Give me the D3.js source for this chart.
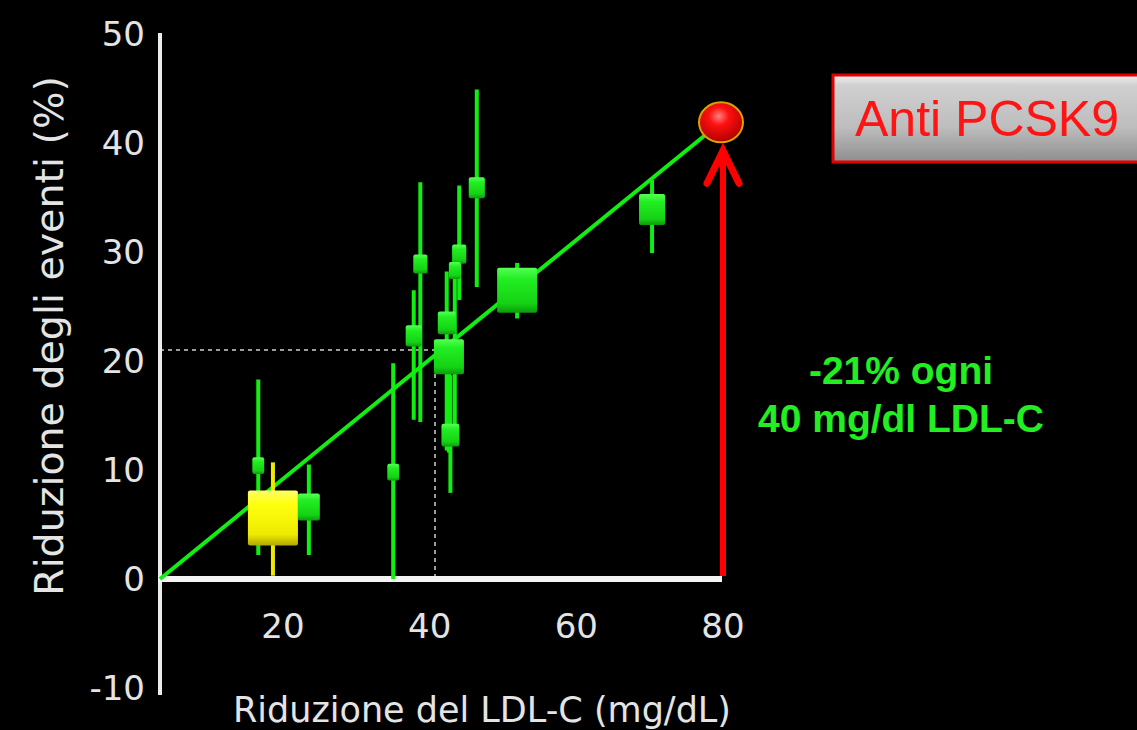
<!DOCTYPE html>
<html>
<head>
<meta charset="utf-8">
<script src="https://cdn.jsdelivr.net/npm/d3@7"></script>
<style>
    html, body { margin: 0; padding: 0; background: #000; }
    svg { display: block; }
</style>
</head>
<body>
<div id="chart"></div>
<script>
// Studies: LDL-C reduction (mg/dL) vs event reduction (%)
const studyX = [16.9, 18.9, 23.8, 35.3, 38.1, 39.0, 42.6, 42.9, 43.1, 44.3, 43.7, 46.7, 52.2, 70.6];
const studyY = [10.4, 5.6, 6.6, 9.8, 22.3, 28.9, 23.5, 20.4, 13.2, 29.8, 28.3, 35.9, 26.5, 33.9];
const studyLow = [2.2, 0.3, 2.2, 0, 14.6, 14.4, 11.8, 11.6, 7.9, 25.6, 12.3, 26.8, 23.9, 29.9];
const studyHigh = [18.3, 10.7, 10.5, 19.8, 26.5, 36.4, 28.2, 21.9, 18.7, 36.1, 30.6, 44.9, 29.0, 36.6];
const studyWeight = [1.4, 25, 4.8, 1.4, 2.6, 2.0, 3.2, 9.0, 3.2, 2.0, 1.4, 2.6, 16, 6.8];
const studyGroup = ['statina', 'altro', 'statina', 'statina', 'statina', 'statina', 'statina',
    'statina', 'statina', 'statina', 'statina', 'statina', 'statina', 'statina'];

// Regression line and the anti PCSK9 projection
const fitX = [3.5, 80];
const fitY = [0, 41.9];
const pcsk9 = { x: 80, y: 41.9 };
const refPoint = { x: 41, y: 21 };

const xTicks = [20, 40, 60, 80];
const yTicks = [-10, 0, 10, 20, 30, 40, 50];

const width = 1137;
const height = 730;

const svg = d3.select('#chart')
    .append('svg')
    .attr('width', width)
    .attr('height', height);

svg.append('rect')
    .attr('width', width)
    .attr('height', height)
    .attr('fill', '#000');

const x = d3.scaleLinear().domain([3.5, 80]).range([160, 721]);
const y = d3.scaleLinear().domain([-10, 50]).range([688, 34]);
const size = d3.scaleSqrt().domain([0, 25]).range([0, 50]);

const defs = svg.append('defs');

function vGradient(id, stops) {
    const gr = defs.append('linearGradient')
        .attr('id', id)
        .attr('x1', 0).attr('y1', 0)
        .attr('x2', 0).attr('y2', 1);
    stops.forEach(s => {
        gr.append('stop').attr('offset', s[0]).attr('stop-color', s[1]);
    });
}

vGradient('greenBox', [[0, '#55ff55'], [0.25, '#22ee22'], [0.8, '#14d214'], [1, '#0c9a0c']]);
vGradient('yellowBox', [[0, '#ffff66'], [0.25, '#ffff10'], [0.8, '#eeea00'], [1, '#b0a800']]);
vGradient('grayBox', [[0, '#f0f0f0'], [0.12, '#d0d0d0'], [0.6, '#bdbdbd'], [1, '#8e8e8e']]);

const redBall = defs.append('radialGradient')
    .attr('id', 'redBall')
    .attr('cx', '45%').attr('cy', '35%').attr('r', '65%');
redBall.append('stop').attr('offset', 0).attr('stop-color', '#ff8080');
redBall.append('stop').attr('offset', 0.35).attr('stop-color', '#ff1010');
redBall.append('stop').attr('offset', 1).attr('stop-color', '#b00000');

// Dashed reference lines
svg.append('line')
    .attr('x1', x(fitX[0]))
    .attr('y1', y(refPoint.y))
    .attr('x2', x(refPoint.x))
    .attr('y2', y(refPoint.y))
    .attr('stroke', '#cfcfcf')
    .attr('stroke-width', 1.5)
    .attr('stroke-dasharray', '4,4');

svg.append('line')
    .attr('x1', x(refPoint.x))
    .attr('y1', y(refPoint.y))
    .attr('x2', x(refPoint.x))
    .attr('y2', y(0))
    .attr('stroke', '#cfcfcf')
    .attr('stroke-width', 1.5)
    .attr('stroke-dasharray', '4,4');

// Axes
svg.append('line')
    .attr('x1', x(fitX[0]))
    .attr('y1', y(50) - 1)
    .attr('x2', x(fitX[0]))
    .attr('y2', y(-10) + 7)
    .attr('stroke', '#ececec')
    .attr('stroke-width', 4);

svg.append('line')
    .attr('x1', x(fitX[0]) - 2)
    .attr('y1', y(0))
    .attr('x2', x(80) + 1)
    .attr('y2', y(0))
    .attr('stroke', '#f4f4f4')
    .attr('stroke-width', 6);

svg.selectAll('.ytick')
    .data(yTicks)
    .enter()
    .append('text')
    .attr('class', 'ytick')
    .attr('x', 145)
    .attr('y', d => y(d))
    .attr('dy', '0.36em')
    .attr('text-anchor', 'end')
    .attr('font-family', 'DejaVu Sans, Verdana, sans-serif')
    .attr('font-size', '34px')
    .attr('fill', '#e4e4e4')
    .text(d => d);

svg.selectAll('.xtick')
    .data(xTicks)
    .enter()
    .append('text')
    .attr('class', 'xtick')
    .attr('x', d => x(d) + 2)
    .attr('y', 626)
    .attr('dy', '0.36em')
    .attr('text-anchor', 'middle')
    .attr('font-family', 'DejaVu Sans, Verdana, sans-serif')
    .attr('font-size', '34px')
    .attr('fill', '#e4e4e4')
    .text(d => d);

// Axis titles
svg.append('text')
    .attr('x', 482)
    .attr('y', 722)
    .attr('text-anchor', 'middle')
    .attr('font-family', 'DejaVu Sans, Verdana, sans-serif')
    .attr('font-size', '35px')
    .attr('fill', '#e4e4e4')
    .text('Riduzione del LDL-C (mg/dL)');

svg.append('text')
    .attr('transform', 'translate(63, 336) rotate(-90)')
    .attr('text-anchor', 'middle')
    .attr('font-family', 'DejaVu Sans, Verdana, sans-serif')
    .attr('font-size', '39.5px')
    .attr('fill', '#e4e4e4')
    .text('Riduzione degli eventi (%)');

// Regression line
svg.append('line')
    .attr('x1', x(fitX[0]))
    .attr('y1', y(fitY[0]))
    .attr('x2', x(fitX[1]))
    .attr('y2', y(fitY[1]))
    .attr('stroke', '#11ee11')
    .attr('stroke-width', 4);

// Studies
const studies = studyX.map((v, i) => ({
    x: v,
    y: studyY[i],
    low: studyLow[i],
    high: studyHigh[i],
    w: studyWeight[i],
    group: studyGroup[i]
}));

const barColor = g => g === 'altro' ? '#f0ea00' : '#11ee11';
const boxFill = g => g === 'altro' ? 'url(#yellowBox)' : 'url(#greenBox)';

svg.selectAll('.ci')
    .data(studies)
    .enter()
    .append('line')
    .attr('class', 'ci')
    .attr('x1', d => x(d.x))
    .attr('x2', d => x(d.x))
    .attr('y1', d => y(d.low))
    .attr('y2', d => y(d.high))
    .attr('stroke', d => barColor(d.group))
    .attr('stroke-width', 4);

// small boxes are drawn a bit taller than wide, like in the slide
svg.selectAll('.box')
    .data(studies)
    .enter()
    .append('rect')
    .attr('class', 'box')
    .attr('x', d => x(d.x) - size(d.w) / 2)
    .attr('y', d => y(d.y) - (size(d.w) + 5) / 2)
    .attr('width', d => size(d.w))
    .attr('height', d => size(d.w) + 5)
    .attr('rx', 2)
    .attr('fill', d => boxFill(d.group));

// Red arrow up to the anti PCSK9 point
svg.append('line')
    .attr('x1', x(pcsk9.x) + 2)
    .attr('y1', y(0) - 3)
    .attr('x2', x(pcsk9.x) + 2)
    .attr('y2', y(39.2))
    .attr('stroke', '#ff0000')
    .attr('stroke-width', 6);

svg.append('path')
    .attr('d', `M${x(pcsk9.x) - 14},${y(36.3)} L${x(pcsk9.x) + 2},${y(39.3)} L${x(pcsk9.x) + 18},${y(36.3)}`)
    .attr('fill', 'none')
    .attr('stroke', '#ff0000')
    .attr('stroke-width', 7)
    .attr('stroke-linecap', 'round')
    .attr('stroke-linejoin', 'miter');

svg.append('ellipse')
    .attr('cx', x(pcsk9.x))
    .attr('cy', y(pcsk9.y))
    .attr('rx', 22)
    .attr('ry', 20)
    .attr('fill', 'url(#redBall)')
    .attr('stroke', '#d8a400')
    .attr('stroke-width', 2);

// Anti PCSK9 label box
svg.append('rect')
    .attr('x', 833)
    .attr('y', 75)
    .attr('width', 330)
    .attr('height', 87)
    .attr('fill', 'url(#grayBox)')
    .attr('stroke', '#e00000')
    .attr('stroke-width', 3);

svg.append('text')
    .attr('x', 855)
    .attr('y', 136)
    .attr('font-family', 'Liberation Sans, Arial, sans-serif')
    .attr('font-size', '50px')
    .attr('fill', '#ff1414')
    .text('Anti PCSK9');

// Slope annotation
const note = svg.append('text')
    .attr('text-anchor', 'middle')
    .attr('font-family', 'Liberation Sans, Arial, sans-serif')
    .attr('font-weight', 'bold')
    .attr('font-size', '39px')
    .attr('fill', '#22ee22');

note.append('tspan')
    .attr('x', 901)
    .attr('y', 384)
    .text('-21% ogni');

note.append('tspan')
    .attr('x', 901)
    .attr('y', 432)
    .text('40 mg/dl LDL-C');
</script>
</body>
</html>
